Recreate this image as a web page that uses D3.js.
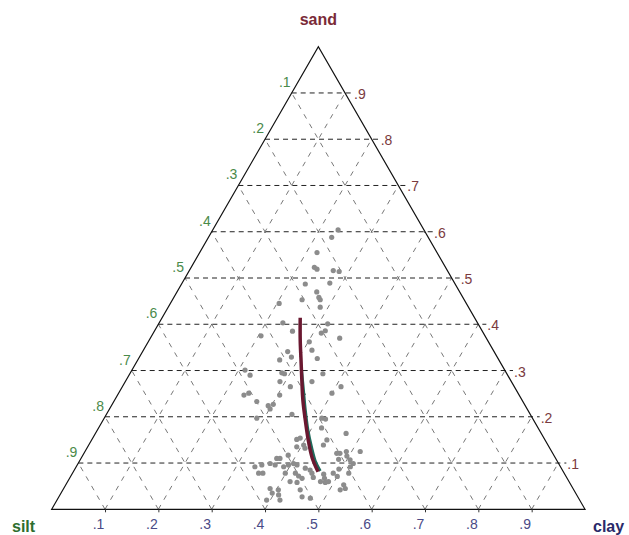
<!DOCTYPE html>
<html>
<head>
<meta charset="utf-8">
<script src="https://cdn.jsdelivr.net/npm/d3@7"></script>
<style>
  body { margin: 0; background: #fff; }
  svg { display: block; font-family: Arial, "Liberation Sans", sans-serif; }
</style>
</head>
<body>
<div id="chart"></div>
<script>
// ternary soil texture: sand (top), silt (bottom-left), clay (bottom-right)
const tickValues = [0.1, 0.2, 0.3, 0.4, 0.5, 0.6, 0.7, 0.8, 0.9];
const tickLabels = ['.1', '.2', '.3', '.4', '.5', '.6', '.7', '.8', '.9'];
const axisNames = ['sand', 'silt', 'clay'];

// samples (silt = 1 - sand - clay)
const sampleSand = [
  0.604, 0.588, 0.555, 0.523, 0.519, 0.516, 0.514, 0.487, 0.489, 0.470,
  0.458, 0.453, 0.453, 0.445, 0.437, 0.403, 0.401, 0.375, 0.385, 0.381,
  0.386, 0.370, 0.362, 0.344, 0.341, 0.326, 0.323, 0.329, 0.290, 0.295,
  0.293, 0.293, 0.276, 0.276, 0.265, 0.247, 0.251, 0.265, 0.247, 0.233,
  0.224, 0.227, 0.217, 0.205, 0.197, 0.197, 0.195, 0.176, 0.164, 0.151,
  0.150, 0.154, 0.139, 0.135, 0.139, 0.121, 0.125, 0.108, 0.115, 0.125,
  0.110, 0.117, 0.096, 0.099, 0.096, 0.096, 0.099, 0.096, 0.078, 0.092,
  0.078, 0.078, 0.072, 0.078, 0.069, 0.076, 0.067, 0.078, 0.071, 0.078,
  0.092, 0.099, 0.087, 0.060, 0.058, 0.060, 0.058, 0.060, 0.053, 0.042,
  0.045, 0.035, 0.031, 0.042, 0.042, 0.027, 0.024, 0.020, 0.020, 0.092,
  0.078, 0.089, 0.110, 0.045, 0.121, 0.251, 0.132, 0.085, 0.067, 0.107,
  0.301
];
const sampleClay = [
  0.235, 0.231, 0.220, 0.231, 0.238, 0.270, 0.282, 0.232, 0.277, 0.262,
  0.272, 0.277, 0.243, 0.204, 0.285, 0.232, 0.317, 0.205, 0.259, 0.315,
  0.320, 0.355, 0.302, 0.316, 0.272, 0.335, 0.266, 0.285, 0.227, 0.284,
  0.290, 0.362, 0.290, 0.350, 0.410, 0.237, 0.244, 0.315, 0.304, 0.268,
  0.294, 0.302, 0.301, 0.348, 0.286, 0.408, 0.416, 0.418, 0.470, 0.384,
  0.441, 0.389, 0.440, 0.392, 0.403, 0.480, 0.490, 0.484, 0.496, 0.516,
  0.373, 0.385, 0.346, 0.360, 0.371, 0.396, 0.404, 0.412, 0.357, 0.389,
  0.399, 0.418, 0.427, 0.449, 0.456, 0.472, 0.478, 0.489, 0.500, 0.518,
  0.514, 0.516, 0.495, 0.417, 0.431, 0.474, 0.484, 0.489, 0.521, 0.520,
  0.387, 0.396, 0.410, 0.404, 0.445, 0.456, 0.473, 0.393, 0.418, 0.335,
  0.349, 0.431, 0.367, 0.528, 0.474, 0.400, 0.409, 0.442, 0.436, 0.506,
  0.212
];

// fitted trend lines
const trendSand = [0.414, 0.366, 0.323, 0.280, 0.236, 0.193, 0.150, 0.111, 0.081];
const trendClay = [0.259, 0.283, 0.306, 0.329, 0.353, 0.379, 0.406, 0.433, 0.459];
const trend2Sand = [0.301, 0.258, 0.215, 0.171, 0.133, 0.102, 0.083];
const trend2Clay = [0.318, 0.343, 0.368, 0.395, 0.421, 0.444, 0.462];

const width = 629, height = 535;
const left = 51.7, right = 585, base = 509.3, apex = 46.7;

const svg = d3.select('#chart').append('svg')
  .attr('width', width)
  .attr('height', height);

const x = d3.scaleLinear().domain([0, 1]).range([left, right]);
const y = d3.scaleLinear().domain([0, 1]).range([base, apex]);

// sand, clay -> screen
const px = (s, c) => x(c + s / 2);
const py = (s) => y(s);

const grid = svg.append('g');

// lines of constant clay (parallel to left side) and constant silt (parallel to right side)
tickValues.forEach(v => {
  grid.append('line')
    .attr('x1', px(0, v)).attr('y1', py(0))
    .attr('x2', px(1 - v, v)).attr('y2', py(1 - v))
    .attr('stroke', '#555').attr('stroke-width', 0.8)
    .attr('stroke-dasharray', '5,6');
  grid.append('line')
    .attr('x1', px(0, v)).attr('y1', py(0))
    .attr('x2', px(v, 0)).attr('y2', py(v))
    .attr('stroke', '#555').attr('stroke-width', 0.8)
    .attr('stroke-dasharray', '5,6');
});

// lines of constant sand
tickValues.forEach(v => {
  grid.append('line')
    .attr('x1', px(v, 0)).attr('y1', py(v))
    .attr('x2', px(v, 1 - v) + 8).attr('y2', py(v))
    .attr('stroke', '#222').attr('stroke-width', 1)
    .attr('stroke-dasharray', '5,4');
});

// triangle
svg.append('path')
  .attr('d', d3.line()([[px(0, 0), py(0)], [px(1, 0), py(1)], [px(0, 1), py(0)]]) + 'Z')
  .attr('fill', 'none')
  .attr('stroke', '#111')
  .attr('stroke-width', 1.2);

// clay axis along the base
const axisG = svg.append('g')
  .attr('transform', `translate(0,${base})`)
  .call(d3.axisBottom(x).tickValues(tickValues).tickSize(3).tickFormat((d, i) => tickLabels[i]));
axisG.select('.domain').remove();
axisG.selectAll('line').attr('stroke', '#333');
axisG.selectAll('text')
  .attr('fill', '#4a4a86')
  .attr('font-size', 14)
  .attr('dx', -7)
  .attr('dy', '0.95em');

// sand labels on the right edge
svg.append('g').selectAll('text')
  .data(tickValues)
  .join('text')
  .attr('x', d => px(d, 1 - d) + 9)
  .attr('y', d => py(d) + 6)
  .attr('fill', '#7a3a3e')
  .attr('font-size', 14)
  .text((d, i) => tickLabels[i]);

// silt labels on the left edge
svg.append('g').selectAll('text')
  .data(tickValues)
  .join('text')
  .attr('x', d => px(1 - d, 0) - 1)
  .attr('y', d => py(1 - d) - 6)
  .attr('text-anchor', 'end')
  .attr('fill', '#4a8a4a')
  .attr('font-size', 14)
  .text((d, i) => tickLabels[i]);

// axis names
svg.append('text').attr('x', px(1, 0)).attr('y', 25)
  .attr('text-anchor', 'middle').attr('font-weight', 'bold').attr('font-size', 16)
  .attr('fill', '#7a2a38').text(axisNames[0]);
svg.append('text').attr('x', 12).attr('y', 532)
  .attr('font-weight', 'bold').attr('font-size', 16)
  .attr('fill', '#2e6e2e').text(axisNames[1]);
svg.append('text').attr('x', 593).attr('y', 532)
  .attr('font-weight', 'bold').attr('font-size', 16)
  .attr('fill', '#2a2a6a').text(axisNames[2]);

// samples
svg.append('g').selectAll('circle')
  .data(sampleSand.map((s, i) => [s, sampleClay[i]]))
  .join('circle')
  .attr('cx', d => px(d[0], d[1]))
  .attr('cy', d => py(d[0]))
  .attr('r', 2.6)
  .attr('fill', '#8c8c8c');

// trend lines
const curve = d3.line().curve(d3.curveCatmullRom)
  .x(d => px(d[0], d[1]))
  .y(d => py(d[0]));

svg.append('path')
  .datum(trend2Sand.map((s, i) => [s, trend2Clay[i]]))
  .attr('d', curve)
  .attr('fill', 'none')
  .attr('stroke', '#1f6b5c')
  .attr('stroke-width', 3);

svg.append('path')
  .datum(trendSand.map((s, i) => [s, trendClay[i]]))
  .attr('d', curve)
  .attr('fill', 'none')
  .attr('stroke', '#6a1830')
  .attr('stroke-width', 3.5);
</script>
</body>
</html>
